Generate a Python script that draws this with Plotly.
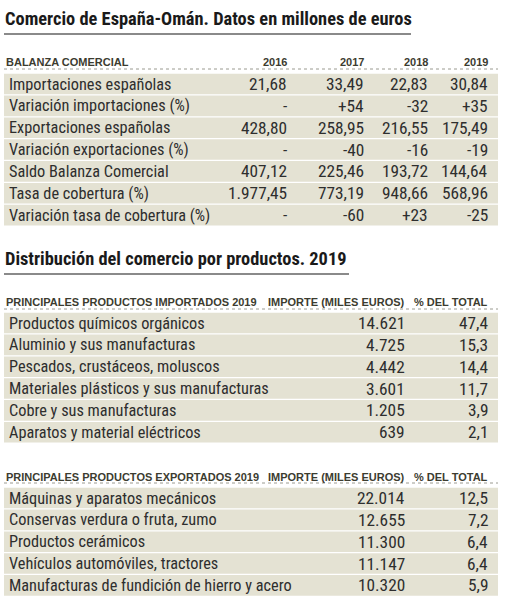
import plotly.graph_objects as go

# ---------------- DATA ----------------
title_1 = "Comercio de España-Omán. Datos en millones de euros"
balanza_header = "BALANZA COMERCIAL"
years = ["2016", "2017", "2018", "2019"]
balanza_labels = [
    "Importaciones españolas",
    "Variación importaciones (%)",
    "Exportaciones españolas",
    "Variación exportaciones (%)",
    "Saldo Balanza Comercial",
    "Tasa de cobertura (%)",
    "Variación tasa de cobertura (%)",
]
balanza_2016 = ["21,68", "-", "428,80", "-", "407,12", "1.977,45", "-"]
balanza_2017 = ["33,49", "+54", "258,95", "-40", "225,46", "773,19", "-60"]
balanza_2018 = ["22,83", "-32", "216,55", "-16", "193,72", "948,66", "+23"]
balanza_2019 = ["30,84", "+35", "175,49", "-19", "144,64", "568,96", "-25"]

title_2 = "Distribución del comercio por productos. 2019"
imp_header = "PRINCIPALES PRODUCTOS IMPORTADOS 2019"
exp_header = "PRINCIPALES PRODUCTOS EXPORTADOS 2019"
col_importe = "IMPORTE (MILES EUROS)"
col_pct = "% DEL TOTAL"
imp_products = [
    "Productos químicos orgánicos",
    "Aluminio y sus manufacturas",
    "Pescados, crustáceos, moluscos",
    "Materiales plásticos y sus manufacturas",
    "Cobre y sus manufacturas",
    "Aparatos y material eléctricos",
]
imp_values = ["14.621", "4.725", "4.442", "3.601", "1.205", "639"]
imp_pct = ["47,4", "15,3", "14,4", "11,7", "3,9", "2,1"]
exp_products = [
    "Máquinas y aparatos mecánicos",
    "Conservas verdura o fruta, zumo",
    "Productos cerámicos",
    "Vehículos automóviles, tractores",
    "Manufacturas de fundición de hierro y acero",
]
exp_values = ["22.014", "12.655", "11.300", "11.147", "10.320"]
exp_pct = ["12,5", "7,2", "6,4", "6,4", "5,9"]

# ---------------- STYLE ----------------
W, H = 509, 600
FONT = "Roboto Condensed, Liberation Sans Narrow, Arial Narrow, sans-serif"
HFONT = "Liberation Sans, Arial, sans-serif"
ROW_BG = "#e4e2d3"
TXT = "#2e2e2e"
HDR = "#3c3c30"
ROW_STEP = 21.85
ROW_HALF = 10.3
LEFT, RIGHT = 4, 498
LABEL_SIZE = 16.3
NUM_SIZE = 17.3

fig = go.Figure()
annotations = []
shapes = []


def text(x, y, s, size, anchor="left", color=TXT, bold=False, family=FONT):
    annotations.append(dict(
        x=x, y=y, xref="x", yref="y", text=("<b>%s</b>" % s) if bold else s,
        showarrow=False, xanchor=anchor, yanchor="middle",
        font=dict(family=family, size=size, color=color),
    ))


def section_title(y, s, line_end, line_y):
    text(LEFT - 1, y, s, 18.4, bold=True, color="#1a1a1a")
    shapes.append(dict(type="line", xref="x", yref="y", x0=LEFT, x1=line_end,
                       y0=line_y, y1=line_y, line=dict(color="#8a8a8a", width=2)))


def header(y, labels_x, line_y):
    for s, x, anc in labels_x:
        text(x, y, s, 11, anchor=anc, color=HDR, bold=True, family=HFONT)
    shapes.append(dict(type="line", xref="x", yref="y", x0=LEFT, x1=RIGHT,
                       y0=line_y, y1=line_y, line=dict(color="#9a9a90", width=1, dash="dot")))


def rows(y0, labels, cols):
    for i, lab in enumerate(labels):
        yc = y0 + i * ROW_STEP
        shapes.append(dict(type="rect", xref="x", yref="y", x0=LEFT, x1=RIGHT,
                           y0=yc - ROW_HALF, y1=yc + ROW_HALF,
                           fillcolor=ROW_BG, line=dict(width=0), layer="below"))
        text(LEFT + 3, yc, lab, LABEL_SIZE)
        for xr, vals in cols:
            text(xr, yc, vals[i], NUM_SIZE, anchor="right")


# Section 1
section_title(18, title_1, 411, 34)
header(62, [(balanza_header, LEFT, "left"), (years[0], 289, "right"), (years[1], 366, "right"),
            (years[2], 430, "right"), (years[3], 490, "right")], 69)
rows(84, balanza_labels, [(289, balanza_2016), (366, balanza_2017),
                          (430, balanza_2018), (490, balanza_2019)])

# Section 2
section_title(258, title_2, 349, 274)
header(302, [(imp_header, LEFT, "left"), (col_importe, 407, "right"), (col_pct, 490, "right")], 309)
rows(323, imp_products, [(407, imp_values), (490, imp_pct)])

# Section 3
header(477, [(exp_header, LEFT, "left"), (col_importe, 407, "right"), (col_pct, 490, "right")], 483)
rows(498, exp_products, [(407, exp_values), (490, exp_pct)])

fig.update_layout(
    width=W, height=H,
    margin=dict(l=0, r=0, t=0, b=0),
    paper_bgcolor="white", plot_bgcolor="white",
    xaxis=dict(range=[0, W], visible=False, fixedrange=True),
    yaxis=dict(range=[H, 0], visible=False, fixedrange=True),
    annotations=annotations, shapes=shapes, showlegend=False,
)
fig.write_html(
    "out.html",
    config={"displayModeBar": False},
    post_script="document.body.style.margin='0';document.body.style.padding='0';"
                "document.body.style.overflow='hidden';",
)
